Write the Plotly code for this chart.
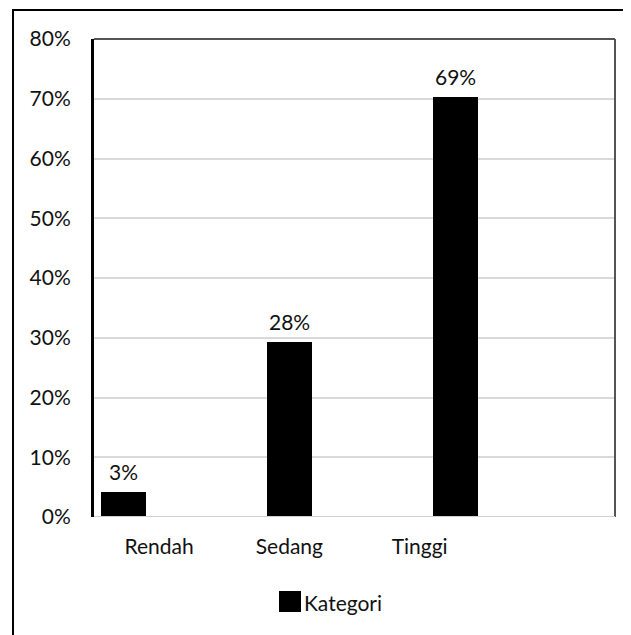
import plotly.graph_objects as go

categories = ["Rendah", "Sedang", "Tinggi"]
bar_values = [4.2, 29.3, 70.3]          # bar heights (%) as drawn
label_texts = ["3%", "28%", "69%"]      # data labels as printed
series_name = "Kategori"
y_ticks = [0, 10, 20, 30, 40, 50, 60, 70, 80]
y_tick_labels = [f"{v}%" for v in y_ticks]

FONT = "Lato"
FS = 21
TXT = "#111111"

OFF = 8                      # page body margin
W, H = 631 - OFF, 635 - OFF
L, R, T, B = 94 - OFF, 16, 39 - OFF, 118
pw = W - L - R
ph = H - T - B
def px(x): return (x - OFF - L) / pw
def py(y): return (OFF + T + ph - y) / ph

fig = go.Figure()
fig.add_trace(go.Bar(
    x=categories, y=bar_values, name=series_name,
    marker=dict(color="black", line=dict(width=0)),
    width=0.271, showlegend=False, xaxis="x", yaxis="y",
))
# invisible helper trace so the label axis is drawn
fig.add_trace(go.Scatter(x=[0.5], y=[0], mode="markers", marker=dict(opacity=0),
                         showlegend=False, hoverinfo="skip", xaxis="x2", yaxis="y"))

for c, v, t in zip(categories, bar_values, label_texts):
    fig.add_annotation(x=c, y=v, xref="x", yref="y", text=t, showarrow=False,
                       yanchor="bottom", yshift=6,
                       font=dict(family=FONT, size=FS, color=TXT))

shapes = [
    # outer chart frame (left/top visible)
    dict(type="rect", xref="paper", yref="paper", x0=px(13), x1=px(660), y0=py(660), y1=py(10),
         line=dict(color="black", width=2), layer="below"),
    # top & right plot border
    dict(type="line", xref="paper", yref="paper", x0=0, x1=1, y0=1, y1=1,
         line=dict(color="#555555", width=2)),
    dict(type="line", xref="paper", yref="paper", x0=1, x1=1, y0=0, y1=1,
         line=dict(color="#555555", width=2)),
    # zero line above bars
    dict(type="line", xref="paper", yref="y", x0=0, x1=1, y0=0, y1=0,
         line=dict(color="#d0d0d0", width=2)),
    # legend swatch
    dict(type="rect", xref="paper", yref="paper", x0=px(279), x1=px(301), y0=py(612), y1=py(591),
         fillcolor="black", line=dict(width=0)),
]
fig.add_annotation(xref="paper", yref="paper", x=px(302), y=py(602), text=series_name,
                   showarrow=False, xanchor="left", yanchor="middle",
                   font=dict(family=FONT, size=FS, color=TXT))

fig.update_layout(
    width=W, height=H,
    margin=dict(l=L, r=R, t=T, b=B),
    paper_bgcolor="white", plot_bgcolor="white",
    font=dict(family=FONT, size=FS, color=TXT),
    showlegend=False,
    bargap=0,
    shapes=shapes,
    xaxis=dict(type="category", range=[-0.178, 2.961], showticklabels=False,
               showgrid=False, showline=False, zeroline=False, ticks=""),
    xaxis2=dict(overlaying="x", type="linear", range=[0, 4], side="bottom",
                tickvals=[0.5, 1.5, 2.5], ticktext=categories,
                showgrid=False, showline=False, zeroline=False, ticks="",
                ticklabelstandoff=15, tickfont=dict(family=FONT, size=FS, color=TXT)),
    yaxis=dict(range=[0, 80], tickvals=y_ticks, ticktext=y_tick_labels,
               showgrid=True, gridcolor="#d9d9d9", gridwidth=1.5,
               zeroline=False, showline=True, linecolor="black", linewidth=3,
               ticks="", ticklabelstandoff=16,
               tickfont=dict(family=FONT, size=FS, color=TXT)),
)

fig.write_html("out.html")
